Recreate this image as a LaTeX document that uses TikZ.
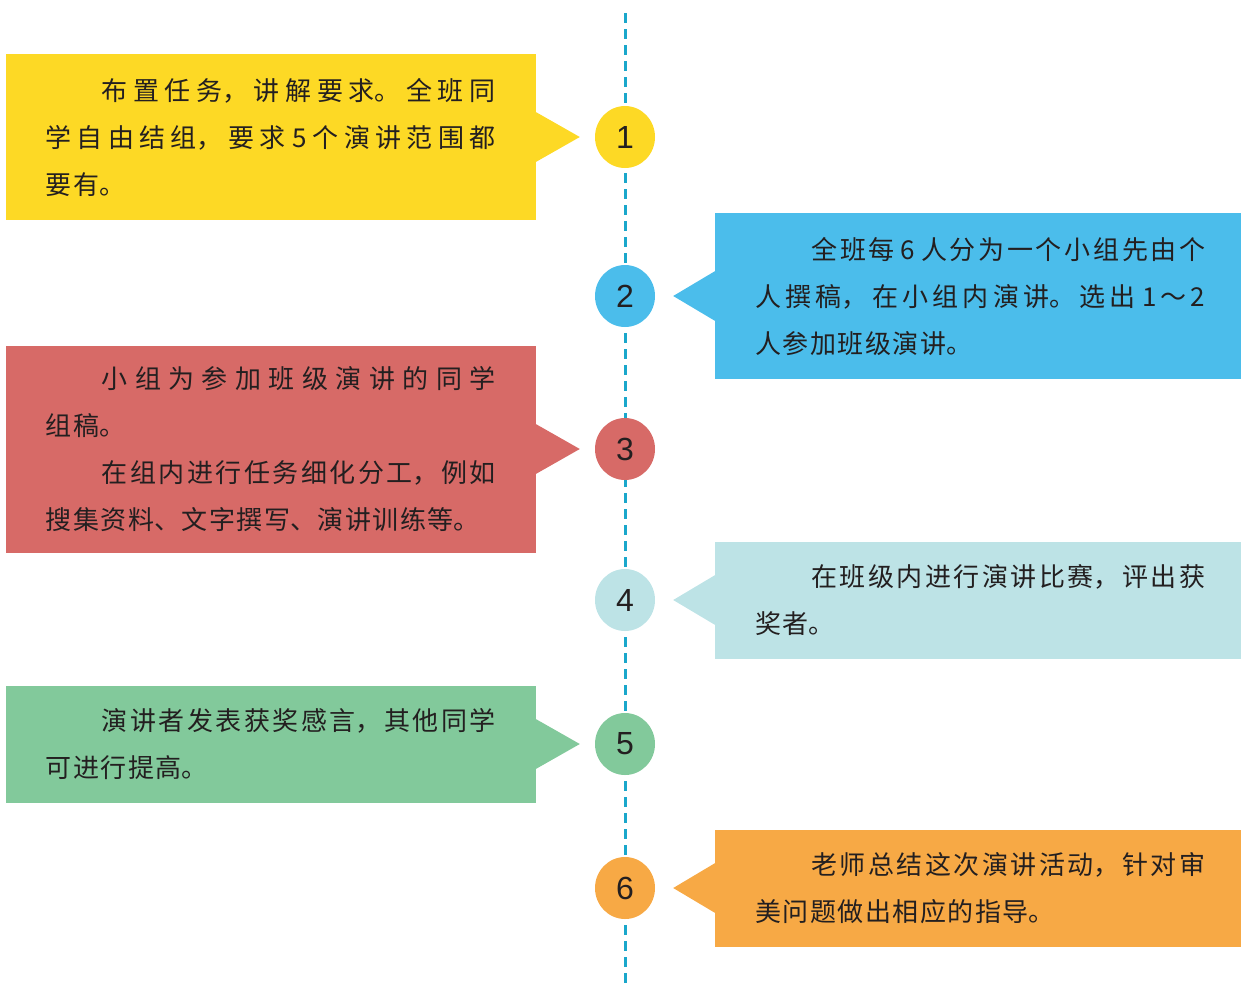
\documentclass[tikz,border=0pt]{standalone}
\usepackage{fontspec}
\setmainfont{Noto Sans CJK SC}
\newfontfamily\numfont{Liberation Sans}
\usetikzlibrary{positioning,shapes.geometric}

\definecolor{ink}{HTML}{231F20}
\definecolor{yel}{HTML}{FDD925}
\definecolor{sky}{HTML}{4BBDEB}
\definecolor{rose}{HTML}{D76A67}
\definecolor{ice}{HTML}{BDE3E6}
\definecolor{mint}{HTML}{82C99B}
\definecolor{amber}{HTML}{F7A945}
\definecolor{dashblue}{HTML}{1AA7CB}

\XeTeXlinebreaklocale "zh"
\XeTeXlinebreakskip=1.5pt plus 20pt
\tolerance=10000
\setlength{\parindent}{0pt}
\setlength{\parskip}{0pt}
\newcommand{\ind}{\hspace*{56pt}}

\begin{document}
\begin{tikzpicture}[x=1pt, y=-1pt,
    box/.style={rectangle, inner xsep=40pt, inner ysep=0pt, text width=450pt, align=justify, text=ink, font=\fontsize{26pt}{47pt}\selectfont},
    num/.style={ellipse, minimum width=60pt, minimum height=62pt, inner sep=0pt, text=ink, font=\numfont\fontsize{32pt}{32pt}\selectfont}]
    \useasboundingbox (0,0) rectangle (1241,986);

    % timeline
    \coordinate (top) at (625,13);
    \coordinate (bottom) at (625,986);
    \draw[line width=3pt, dash pattern=on 10pt off 6pt, dashblue] (top) -- (bottom);

    \node (n1) [num, fill=yel] at (625,137) {1};
    \node (n2) [num, fill=sky] at (625,296) {2};
    \node (n3) [num, fill=rose] at (625,449) {3};
    \node (n4) [num, fill=ice] at (625,600) {4};
    \node (n5) [num, fill=mint] at (625,744) {5};
    \node (n6) [num, fill=amber] at (625,888) {6};

    \node (assign) [box, fill=yel, minimum height=166pt, left=59pt of n1] {\ind 布置任务，讲解要求。全班同\linebreak 学自由结组，要求 5 个演讲范围都\linebreak 要有。};
    \node (draft) [box, fill=sky, minimum height=166pt, right=60pt of n2] {\ind 全班每 6 人分为一个小组先由个\linebreak 人撰稿，在小组内演讲。选出 1～2\linebreak 人参加班级演讲。};
    \node (prepare) [box, fill=rose, minimum height=207pt, left=59pt of n3] {\ind 小组为参加班级演讲的同学\linebreak 组稿。\par \ind 在组内进行任务细化分工，例如\linebreak 搜集资料、文字撰写、演讲训练等。};
    \node (contest) [box, fill=ice, minimum height=117pt, right=60pt of n4] {\ind 在班级内进行演讲比赛，评出获\linebreak 奖者。};
    \node (speech) [box, fill=mint, minimum height=117pt, left=59pt of n5] {\ind 演讲者发表获奖感言，其他同学\linebreak 可进行提高。};
    \node (summary) [box, fill=amber, minimum height=117pt, right=60pt of n6] {\ind 老师总结这次演讲活动，针对审\linebreak 美问题做出相应的指导。};

    % pointers
    \fill[yel] ([yshift=25pt]assign.east) -- ([xshift=-15pt]n1.west) -- ([yshift=-25pt]assign.east) -- cycle;
    \fill[sky] ([yshift=25pt]draft.west) -- ([xshift=18pt]n2.east) -- ([yshift=-25pt]draft.west) -- cycle;
    \fill[rose] ([yshift=25pt]prepare.east) -- ([xshift=-15pt]n3.west) -- ([yshift=-25pt]prepare.east) -- cycle;
    \fill[ice] ([yshift=25pt]contest.west) -- ([xshift=18pt]n4.east) -- ([yshift=-25pt]contest.west) -- cycle;
    \fill[mint] ([yshift=25pt]speech.east) -- ([xshift=-15pt]n5.west) -- ([yshift=-25pt]speech.east) -- cycle;
    \fill[amber] ([yshift=25pt]summary.west) -- ([xshift=18pt]n6.east) -- ([yshift=-25pt]summary.west) -- cycle;
\end{tikzpicture}
\end{document}
